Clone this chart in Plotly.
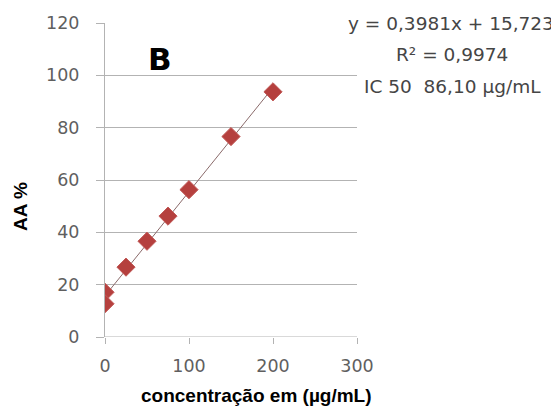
import plotly.graph_objects as go

conc = [0, 0, 25, 50, 75, 100, 150, 200]
aa = [17.1, 12.7, 26.7, 36.6, 46.2, 56.3, 76.6, 93.7]
slope = 0.3981
intercept = 15.723
trend_x = [0, 200]
x_ticks = [0, 100, 200, 300]
y_ticks = [0, 20, 40, 60, 80, 100, 120]

trend_y = [slope * v + intercept for v in trend_x]

W, H = 559, 411
OFF = 8  # page body offset
# desired plot area in screen px
SL, SR, ST, SB = 105, 357, 23, 337
L, T = SL - OFF, ST - OFF
R = W - (SR - OFF)
B = H - (SB - OFF)

fig = go.Figure()
fig.add_trace(go.Scatter(x=trend_x, y=trend_y, mode="lines",
                         line=dict(color="#8a6a6a", width=1), showlegend=False))
fig.add_trace(go.Scatter(x=conc, y=aa, mode="markers",
                         marker=dict(symbol="diamond", size=14, color="#b5403e",
                                     line=dict(color="#c25a58", width=1)),
                         showlegend=False))

tickfont = dict(family="DejaVu Sans, sans-serif", size=17.5, color="#5f5f5f")
fig.update_xaxes(range=[0, 300], tickvals=x_ticks, showgrid=False, zeroline=False,
                 showline=False, ticks="outside", ticklen=6, tickcolor="#b3b3b3",
                 tickfont=tickfont, ticklabelstandoff=7, automargin=False)
fig.update_yaxes(range=[0, 120], tickvals=y_ticks, showgrid=True, gridcolor="#b3b3b3",
                 gridwidth=1, zeroline=False, showline=True, linecolor="#b3b3b3",
                 ticks="outside", ticklen=8, tickcolor="#b3b3b3", tickfont=tickfont,
                 ticklabelstandoff=13, automargin=False)
fig.add_shape(type="line", xref="x", yref="y", x0=0, x1=300, y0=0, y1=0,
              line=dict(color="#b3b3b3", width=1), layer="below")

pw = W - L - R
ph = H - T - B
def px(xs):
    return (xs - OFF - L) / pw
def py(ys):
    return 1 - (ys - OFF - T) / ph

ann_font = dict(family="DejaVu Sans, sans-serif", size=18.5, color="#454545")
for text, xs, ys in [("y = 0,3981x + 15,723", 451, 23),
                     ("R² = 0,9974", 452, 55),
                     ("IC 50  86,10 µg/mL", 452, 86)]:
    fig.add_annotation(text=text, xref="paper", yref="paper", x=px(xs), y=py(ys),
                       showarrow=False, font=ann_font, bgcolor="white",
                       xanchor="center", yanchor="middle")

fig.add_annotation(text="<b>B</b>", xref="paper", yref="paper", x=px(160), y=py(59),
                   showarrow=False, font=dict(family="DejaVu Sans", size=31, color="#000"),
                   xanchor="center", yanchor="middle")

title_font = dict(family="Liberation Sans, Arial", size=19, color="#000")
fig.add_annotation(text="<b>concentração em (µg/mL)</b>", xref="paper", yref="paper",
                   x=px(256), y=py(395), showarrow=False, font=title_font,
                   xanchor="center", yanchor="middle")
fig.add_annotation(text="<b>AA %</b>", xref="paper", yref="paper",
                   x=px(20), y=py(207), showarrow=False, font=title_font, textangle=-90,
                   xanchor="center", yanchor="middle")

fig.update_layout(width=W, height=H, margin=dict(l=L, r=R, t=T, b=B),
                  plot_bgcolor="white", paper_bgcolor="white")
fig.write_html("out.html")
